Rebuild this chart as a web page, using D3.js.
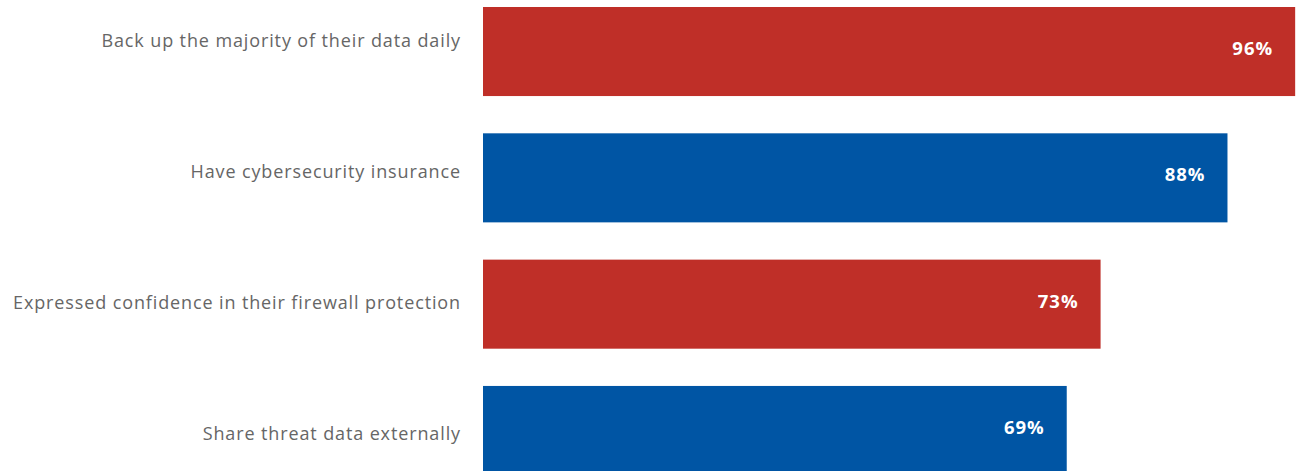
<!DOCTYPE html>
<html>
<head>
<meta charset="utf-8">
<script src="https://cdn.jsdelivr.net/npm/d3@7"></script>
<style>
  html, body { margin: 0; padding: 0; background: #fff; }
  #chart { width: 1300px; height: 471px; overflow: hidden; }
</style>
</head>
<body>
<div id="chart"></div>
<script>
// data -------------------------------------------------------------------
const categories = [
  'Back up the majority of their data daily',
  'Have cybersecurity insurance',
  'Expressed confidence in their firewall protection',
  'Share threat data externally'
];
const values = [96, 88, 73, 69];
const barColors = ['#bf2f28', '#0055a4', '#bf2f28', '#0055a4'];

// svg --------------------------------------------------------------------
const width = 1300;
const height = 471;
const svg = d3.select('#chart').append('svg')
  .attr('width', width)
  .attr('height', height)
  .attr('viewBox', '0 0 ' + width + ' ' + height);

// scales -----------------------------------------------------------------
const xScale = d3.scaleLinear()
  .domain([0, 100])
  .range([483, 483 + 846]);

const yScale = d3.scaleBand()
  .domain(categories)
  .range([7, 475])
  .paddingInner(0.295)
  .paddingOuter(0);

// labels sit on a slightly wider spacing than the bars
const labelScale = d3.scalePoint()
  .domain(categories)
  .range([41, 433.5]);

const data = categories.map((c, i) => ({ name: c, value: values[i], color: barColors[i] }));

// bars -------------------------------------------------------------------
svg.selectAll('.bar')
  .data(data)
  .enter()
  .append('rect')
  .attr('class', 'bar')
  .attr('x', xScale(0))
  .attr('y', d => yScale(d.name))
  .attr('width', d => xScale(d.value) - xScale(0))
  .attr('height', yScale.bandwidth())
  .attr('fill', d => d.color);

// value text --------------------------------------------------------------
svg.selectAll('.val')
  .data(data)
  .enter()
  .append('text')
  .attr('class', 'val')
  .attr('x', d => xScale(d.value) - 22)
  .attr('y', d => yScale(d.name) + yScale.bandwidth() / 2 - 3)
  .attr('dy', '0.35em')
  .attr('text-anchor', 'end')
  .attr('fill', '#fff')
  .attr('font-family', '"Open Sans", sans-serif')
  .attr('font-weight', 'bold')
  .attr('font-size', '18.5px')
  .attr('letter-spacing', '1px')
  .text(d => d.value + '%');

// category labels ---------------------------------------------------------
svg.selectAll('.label')
  .data(data)
  .enter()
  .append('text')
  .attr('class', 'label')
  .attr('x', 461)
  .attr('y', d => labelScale(d.name))
  .attr('dy', '0.35em')
  .attr('text-anchor', 'end')
  .attr('fill', '#666')
  .attr('font-family', '"Open Sans", sans-serif')
  .attr('font-size', '18px')
  .attr('letter-spacing', '0.88px')
  .text(d => d.name);
</script>
</body>
</html>
